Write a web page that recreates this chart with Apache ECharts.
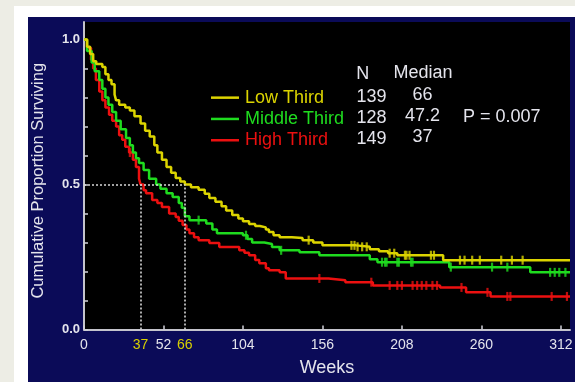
<!DOCTYPE html>
<html>
<head>
<meta charset="utf-8">
<script src="https://cdn.jsdelivr.net/npm/echarts@6/dist/echarts.min.js"></script>
<style>
  html, body { margin: 0; padding: 0; background: #edede5; }
  #chart { width: 575px; height: 382px; }
</style>
</head>
<body>
<div id="chart"></div>
<script>
// Kaplan-Meier survival by thirds: [week, proportion surviving] at each step
const lowThird = [
  [0,1.0],[2,0.975],[4,0.95],[6,0.925],[8,0.915],[12,0.905],[14,0.88],[16,0.86],[18,0.845],
  [20,0.81],[21,0.79],[23,0.775],[27,0.765],[30,0.755],[33,0.735],[37,0.71],[40,0.685],
  [43,0.665],[46,0.635],[48,0.61],[51,0.585],[54,0.56],[57,0.54],[60,0.522],[63,0.51],
  [66,0.5],[70,0.49],[75,0.482],[79,0.468],[82,0.453],[86,0.44],[90,0.425],[93,0.41],
  [97,0.395],[101,0.383],[104,0.373],[108,0.364],[112,0.357],[115,0.352],[119,0.345],
  [121,0.336],[124,0.325],[128,0.318],[136,0.315],[143,0.308],[150,0.3],[156,0.29],
  [178,0.285],[187,0.277],[193,0.27],[199,0.263],[205,0.256],[235,0.239],[318,0.239]
];
const middleThird = [
  [0,1.0],[2,0.96],[5,0.92],[7,0.89],[10,0.86],[12,0.83],[14,0.8],[16,0.775],[18.5,0.75],
  [21,0.72],[24,0.69],[27.5,0.66],[30,0.635],[32,0.61],[34,0.59],[36,0.574],[39,0.55],
  [42.6,0.52],[47.2,0.5],[50,0.485],[54,0.47],[58,0.457],[62,0.436],[64,0.42],[66,0.39],
  [69,0.377],[80,0.365],[84,0.345],[87,0.332],[104,0.325],[107,0.312],[110,0.3],[118,0.295],
  [123,0.284],[128,0.273],[141,0.266],[154,0.256],[187,0.242],[192,0.232],[239,0.215],
  [292,0.197],[318,0.197]
];
const highThird = [
  [0,1.0],[2,0.97],[4.6,0.93],[6,0.9],[7.8,0.86],[10,0.82],[12,0.79],[14,0.765],[16.4,0.74],
  [18.5,0.72],[21,0.7],[23,0.67],[25,0.654],[27,0.63],[29.5,0.61],[32,0.585],[34,0.56],
  [36,0.52],[37,0.5],[39,0.48],[40.6,0.47],[44.6,0.446],[48,0.436],[51,0.422],[55.7,0.4],
  [60,0.388],[62,0.375],[64.5,0.36],[67,0.345],[69,0.332],[72,0.318],[75,0.308],[82,0.298],
  [88.5,0.284],[101.6,0.273],[105,0.265],[108,0.256],[112,0.24],[114.7,0.228],[119,0.211],
  [121,0.204],[128,0.197],[132,0.176],[160,0.17],[171,0.163],[189,0.152],[233,0.145],
  [250,0.128],[266,0.114],[318,0.114]
];

// Censored observations (weeks)
const lowCensored = [147,175,177,179,182,185,200,203,210,211,213,227,229,246,249,254,259,273,280,287];
const middleCensored = [75,106,129,195,197,198,205,206,214,215,240,267,277,305,308,311,315];
const highCensored = [30,154,188,200,205,208,215,218,221,224,228,231,247,264,277,279,306,316];

// Group table
const groupNames = ['Low Third', 'Middle Third', 'High Third'];
const groupN = ['139', '128', '149'];
const groupMedian = ['66', '47.2', '37'];
const pValueText = 'P = 0.007';

// Axis ticks and labels
const weekTicks = [0, 52, 104, 156, 208, 260, 312];
const weekLabels = [0, 37, 52, 66, 104, 156, 208, 260, 312];
const medianMarks = [37, 66];
const survivalTicks = [0, 0.1, 0.2, 0.3, 0.4, 0.5, 0.6, 0.7, 0.8, 0.9, 1.0];
const survivalLabels = [0, 0.5, 1.0];

const colors = ['#dcd400', '#1fdc1f', '#ec1010'];
const textColor = '#e4e4ec';
const font = "'Liberation Sans', Arial, Helvetica, sans-serif";

// Survival value in effect at a given week (step function lookup)
function survivalAt(curve, week) {
  let s = curve[0][1];
  for (const [w, v] of curve) { if (w <= week) s = v; else break; }
  return s;
}

const curves = [lowThird, middleThird, highThird];
const censored = [lowCensored, middleCensored, highCensored];

const series = [];
curves.forEach((curve, i) => {
  series.push({
    name: groupNames[i],
    type: 'line',
    step: 'end',
    data: curve,
    showSymbol: false,
    color: colors[i],
    lineStyle: { width: 2.5, color: colors[i] },
    itemStyle: { color: colors[i] },
    z: 3 + (2 - i) * 0.1,
    silent: true
  });
  series.push({
    name: groupNames[i] + ' censored',
    type: 'scatter',
    data: censored[i].map(w => [w, survivalAt(curve, w)]),
    symbol: 'rect',
    symbolSize: [2.2, 9],
    itemStyle: { color: colors[i] },
    z: 4,
    silent: true
  });
});

// Dotted guides at the 50% survival point for the low and high thirds
series.push({
  type: 'line',
  data: [],
  silent: true,
  z: 2,
  markLine: {
    silent: true,
    symbol: 'none',
    label: { show: false },
    lineStyle: { type: [2, 2], color: '#d8d8d8', width: 1.6 },
    data: [
      [{ coord: [0, 0.5] }, { coord: [Math.max(...medianMarks), 0.5] }],
      ...medianMarks.map(m => [{ coord: [m, 0] }, { coord: [m, 0.5] }])
    ]
  }
});

const tableText = [];
groupNames.forEach((g, i) => {
  const cy = 96.7 + i * 21.3;
  tableText.push({
    type: 'text', x: 371.5, y: cy,
    style: { text: groupN[i], fill: textColor, font: '18px ' + font, textAlign: 'center', textVerticalAlign: 'middle' }
  });
  tableText.push({
    type: 'text', x: 422.5, y: cy - 2,
    style: { text: groupMedian[i], fill: textColor, font: '18px ' + font, textAlign: 'center', textVerticalAlign: 'middle' }
  });
});

const chart = echarts.init(document.getElementById('chart'), null, { renderer: 'canvas' });
chart.setOption({
  animation: false,
  backgroundColor: '#edede5',
  graphic: [
    { type: 'rect', z: -20, shape: { x: 14, y: 6, width: 561, height: 376 }, style: { fill: '#ffffff' } },
    { type: 'rect', z: -19, shape: { x: 28, y: 17, width: 547, height: 365 }, style: { fill: '#0b0b58' } },
    { type: 'text', x: 362.7, y: 74, style: { text: 'N', fill: textColor, font: '18px ' + font, textAlign: 'center', textVerticalAlign: 'middle' } },
    { type: 'text', x: 423, y: 73, style: { text: 'Median', fill: textColor, font: '18px ' + font, textAlign: 'center', textVerticalAlign: 'middle' } },
    { type: 'text', x: 463, y: 117.5, style: { text: pValueText, fill: textColor, font: '18px ' + font, textAlign: 'left', textVerticalAlign: 'middle' } },
    ...tableText
  ],
  legend: {
    data: groupNames.map((g, i) => ({ name: g, textStyle: { color: colors[i] } })),
    orient: 'vertical',
    left: 206,
    top: 82,
    itemGap: 0,
    itemWidth: 28,
    itemHeight: 2.5,
    icon: 'rect',
    selectedMode: false,
    textStyle: { fontFamily: font, fontSize: 18, lineHeight: 21.3, padding: [0, 0, 0, 1] }
  },
  grid: {
    left: 84, right: 5, top: 22, bottom: 52.5,
    containLabel: false,
    outerBoundsMode: 'none',
    show: true, backgroundColor: '#000000', borderWidth: 0
  },
  xAxis: {
    type: 'value',
    min: 0, max: 318,
    name: 'Weeks',
    nameLocation: 'middle',
    nameGap: 30,
    nameTextStyle: { color: textColor, fontFamily: font, fontSize: 18 },
    axisLine: { show: true, lineStyle: { color: '#c4c4cc', width: 2 } },
    axisTick: { show: true, inside: true, length: 4, customValues: weekTicks, lineStyle: { color: '#d0d0d8', width: 1.5 } },
    axisLabel: {
      customValues: weekLabels,
      margin: 9,
      color: textColor,
      fontFamily: font,
      fontSize: 14,
      formatter: v => medianMarks.includes(v) ? '{m|' + v + '}' : String(v),
      rich: { m: { color: '#d8d000', fontFamily: font, fontSize: 14 } }
    },
    splitLine: { show: false }
  },
  yAxis: {
    type: 'value',
    min: 0, max: 1.06,
    name: 'Cumulative Proportion Surviving',
    nameLocation: 'middle',
    nameGap: 37,
    nameTextStyle: { color: textColor, fontFamily: font, fontSize: 16.5, padding: [0, 10, 0, 0] },
    axisLine: { show: true, lineStyle: { color: '#c4c4cc', width: 2 } },
    axisTick: { show: true, inside: true, length: 4, customValues: survivalTicks, lineStyle: { color: '#d0d0d8', width: 1.5 } },
    axisLabel: {
      customValues: survivalLabels,
      margin: 4,
      color: textColor,
      fontFamily: font,
      fontSize: 13,
      fontWeight: 'bold',
      formatter: v => v.toFixed(1)
    },
    splitLine: { show: false }
  },
  series: series
});
</script>
</body>
</html>
